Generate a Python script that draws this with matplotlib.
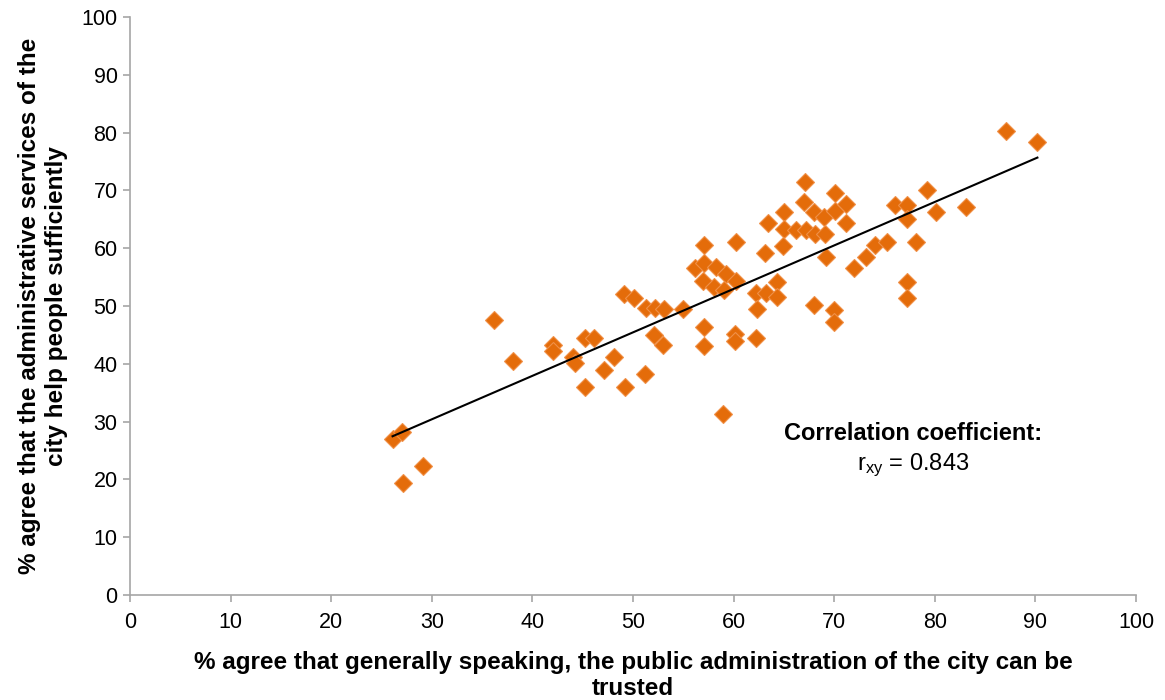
import numpy as np
import matplotlib
matplotlib.use("Agg")
import matplotlib.pyplot as plt

plt.rcParams['font.family'] = ['Liberation Sans', 'DejaVu Sans']
plt.rcParams['mathtext.default'] = 'regular'

# share agreeing that the city administration can be trusted (x)
trust = [26.1, 27.0, 27.1, 29.1, 36.2, 38.1, 42.0, 42.0, 44.0, 44.2,
         45.2, 46.1, 45.2, 47.1, 48.1, 49.1, 50.1, 49.2, 51.2, 51.3,
         52.2, 53.1, 55.0, 52.1, 53.0, 56.2, 57.1, 57.1, 58.3, 59.2,
         57.0, 58.1, 60.2, 59.0, 57.1, 57.1, 60.1, 60.1, 62.2, 58.9,
         60.2, 62.2, 63.2, 64.3, 64.3, 62.3, 63.4, 63.1, 65.0, 65.0,
         66.2, 67.2, 68.1, 69.1, 64.9, 67.1, 67.0, 68.0, 69.0, 70.1,
         70.1, 71.2, 71.2, 69.2, 72.0, 73.2, 74.1, 75.2, 76.0, 77.2,
         77.2, 78.1, 79.2, 80.1, 83.1, 87.1, 90.2, 77.2, 77.2, 68.0,
         70.0, 70.0]
# share agreeing that administrative services help sufficiently (y)
services = [27.0, 28.2, 19.3, 22.4, 47.5, 40.4, 43.3, 42.3, 41.1, 40.1,
            44.4, 44.4, 36.0, 39.0, 41.1, 52.1, 51.3, 36.0, 38.3, 49.6,
            49.6, 49.5, 49.5, 45.0, 43.2, 56.6, 60.5, 57.5, 56.7, 55.6,
            54.3, 53.3, 54.3, 52.7, 46.3, 43.1, 45.2, 44.0, 44.4, 31.4,
            61.1, 52.3, 52.3, 54.1, 51.5, 49.5, 64.4, 59.2, 66.3, 63.3,
            63.1, 63.1, 62.4, 62.5, 60.4, 71.4, 68.0, 66.3, 65.4, 69.5,
            66.5, 67.7, 64.4, 58.4, 56.5, 58.4, 60.5, 61.1, 67.4, 67.4,
            65.1, 61.1, 70.1, 66.3, 67.2, 80.3, 78.3, 54.1, 51.3, 50.2,
            49.3, 47.2]

corr_text = 'Correlation coefficient:'
corr_value = 'r$_{xy}$ = 0.843'

x = np.array(trust)
y = np.array(services)

fig = plt.figure(figsize=(11.65, 7.0), dpi=100)
ax = fig.add_axes([0.1116, 0.15, 0.8635, 0.8257])

ax.plot(x, y, linestyle='none', marker='D', markersize=8.8,
        markerfacecolor='#E46C0A', markeredgecolor='#F09048',
        markeredgewidth=0.8, zorder=2)

# linear trend line over the data range
slope, intercept = np.polyfit(x, y, 1)
xs = np.array([x.min(), x.max()])
ax.plot(xs, slope * xs + intercept, color='black', linewidth=1.5, zorder=3)

ax.set_xlim(0, 100)
ax.set_ylim(0, 100)
ax.set_xticks(range(0, 101, 10))
ax.set_yticks(range(0, 101, 10))

for side in ['top', 'right']:
    ax.spines[side].set_visible(False)
for side in ['left', 'bottom']:
    ax.spines[side].set_color('#A6A6A6')
    ax.spines[side].set_linewidth(1.2)
ax.tick_params(axis='both', colors='#A6A6A6', labelcolor='black',
               labelsize=15.5, length=5, width=1.2, direction='out')
ax.tick_params(axis='x', pad=7)
ax.tick_params(axis='y', pad=4)

ax.set_xlabel('% agree that generally speaking, the public administration of the city can be\ntrusted',
              fontsize=17.5, fontweight='bold', linespacing=1.15)
ax.set_ylabel('% agree that the administrative services of the\ncity help people sufficiently',
              fontsize=17.5, fontweight='bold', linespacing=1.2)
ax.xaxis.set_label_coords(0.5, -0.097)
ax.yaxis.set_label_coords(-0.062, 0.5)

ax.text(77.8, 27.9, corr_text, fontsize=17, fontweight='bold',
        ha='center', va='center')
ax.text(77.8, 22.5, corr_value, fontsize=17, ha='center', va='center')

fig.savefig('out.png', dpi=100)
